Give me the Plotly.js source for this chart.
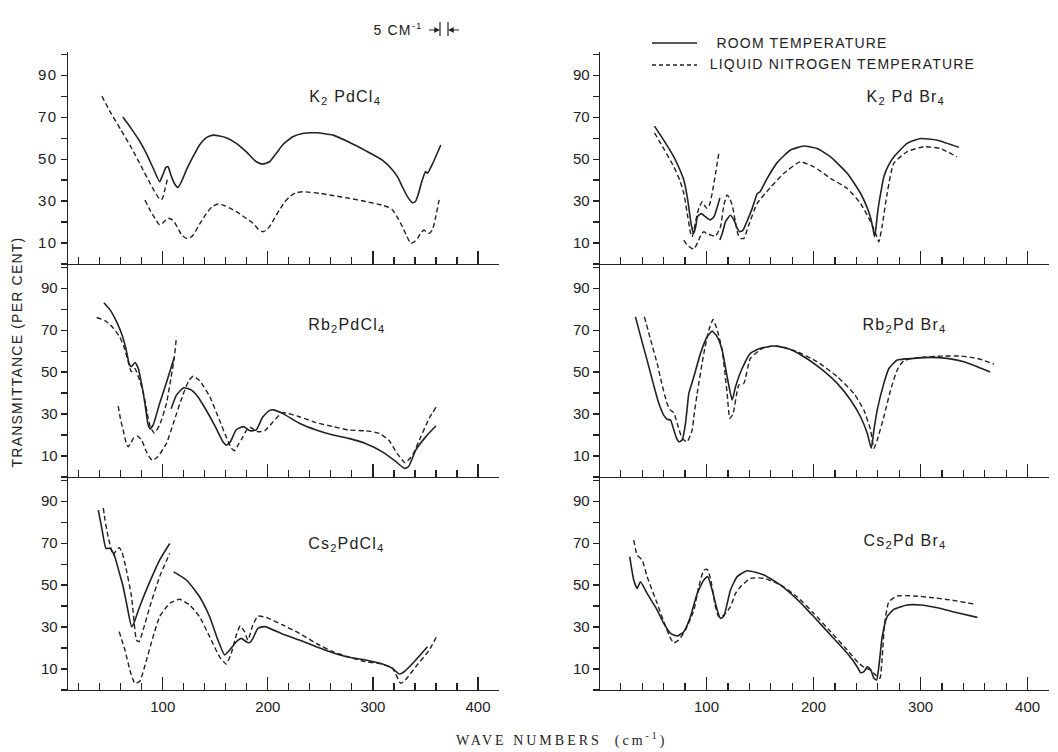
<!DOCTYPE html>
<html><head><meta charset="utf-8">
<script src="https://cdn.plot.ly/plotly-3.0.1.min.js"></script>
<style>
html,body{margin:0;padding:0;background:#fff}
#chart{width:1058px;height:752px}
.xtick text,.ytick text{letter-spacing:1.5px}
.annotation text{letter-spacing:1.2px}
g.annotation[data-index="0"] text{letter-spacing:3px}
</style>
</head><body><div id="chart"></div>
<script>
// ---------------- data ----------------
const seriesNames = ['ROOM TEMPERATURE', 'LIQUID NITROGEN TEMPERATURE'];
const compounds = ['K<sub>2</sub> PdCl<sub>4</sub>', 'K<sub>2</sub> Pd Br<sub>4</sub>',
                   'Rb<sub>2</sub>PdCl<sub>4</sub>', 'Rb<sub>2</sub>Pd Br<sub>4</sub>',
                   'Cs<sub>2</sub>PdCl<sub>4</sub>', 'Cs<sub>2</sub>Pd Br<sub>4</sub>'];
const xTickVals = [100, 200, 300, 400];
const yTickVals = [10, 30, 50, 70, 90];
const xTitle = 'WAVE NUMBERS  (cm<sup>-1</sup>)';
const yTitle = 'TRANSMITTANCE (PER CENT)';
const resolutionLabel = '5 CM<sup>-1</sup>';

// [wavenumber, transmittance %]
const K2PdCl4_room = [[62,70],[70,64.5],[78,58.5],[85,52],[91,45.5],[97,39.2],[100,42.5],[103,46],[105,46.3],[108,42],[111.5,38],[114.5,36.5],[118,39.5],[122.5,44.8],[128.8,51.1],[135,56.7],[141.5,60.2],[147.8,61.4],[154,61],[160.4,60.2],[170,57.5],[179.4,53.5],[189,48.7],[195,47.6],[201.6,48.7],[208,52.7],[214,56.7],[223.7,60.6],[233,62.2],[246,62.5],[262,61.4],[277.5,58],[293,54],[309,49.5],[318.7,44.8],[324,41],[328,36.8],[333,32],[337.7,29.2],[340.5,29.8],[343,33],[347,40],[350,44],[352,43.3],[357,48],[364.6,56.7]];
const K2PdCl4_ln2_a = [[42,80],[50,72.5],[60,64],[70,55.5],[80,46],[90,36.5],[97.2,30.8],[99.5,31],[102,35.5],[105,41.6]];
const K2PdCl4_ln2_b = [[83,30.5],[87,26.5],[91,23],[97,18.6],[101,20],[104,21.5],[106.6,21.7],[109,21],[111,20],[115,16.5],[118,13.8],[122.5,12.2],[126,12.6],[129,13.8],[135,19],[141.5,24],[147,27.3],[152.5,28.6],[160,27.6],[166,26],[173,24],[180,21.5],[186,19.4],[191,16.5],[195,15.4],[198,16],[201.6,17.8],[206,21.5],[211,25.7],[216,29.5],[220.5,32],[226,33.8],[233,34.4],[249,33.7],[263,32.5],[277.5,31.3],[293,29.8],[309,28],[315,27],[318.7,25.7],[323,22.5],[328,17.8],[332,13.5],[336,9.8],[339,10.5],[342.4,12.2],[346,15],[348.7,16.2],[351,15.2],[353.5,14.6],[356.6,16.2],[360,23],[363,30.5]];

const K2PdBr4_room_a = [[51.4,65.7],[60,59],[69.5,51],[75,45],[78.8,40],[82,32],[84,25],[86,18],[88,14.6],[90,18],[91.5,22.5],[95,24],[99,22.5],[103.5,21],[107,22.5],[110,27],[112.5,31.5]];
const K2PdBr4_room_b = [[112.5,11.5],[115,15],[117.8,20.2],[122.4,23.2],[126,20.5],[128.7,17],[131,15.4],[134,16],[136.4,18.6],[142.7,26.5],[147.4,33.5],[150,34.4],[156.7,40.8],[166,48.3],[178.5,54.3],[191,56.2],[203.4,55],[215.9,51],[231.5,43.2],[243.9,33.7],[250,27],[253.3,22],[255.5,17],[257,13],[258.5,18],[260,25],[262.5,33],[265.7,41.6],[270,47],[275,51],[287.5,57.5],[300,59.8],[315.6,59],[335.8,55.6]];
const K2PdBr4_ln2_a = [[51.4,62.5],[60,55],[69.5,46.3],[75,40],[78.8,33.7],[82.5,22.5],[85,15],[86.6,13],[89,18],[91,23],[92.8,26.5],[96,29.7],[98,28],[100.6,26.5],[103,28.5],[105.3,33.7],[108.4,43],[111.5,52.7]];
const K2PdBr4_ln2_b = [[78.8,11.4],[82,9],[85,7.8],[88.2,7.1],[92,10.5],[95,14],[97.5,15.4],[100,14.5],[103.7,13.8],[108.4,13.3],[113.1,17.8],[116.2,28],[119.3,32.9],[122,31],[124.5,27],[127,20],[129.5,14],[131.8,12.2],[134.9,12.2],[139.5,18.6],[147.4,28.9],[159.8,36.5],[172.3,43.2],[184.7,48],[188,48.7],[200.3,46.3],[215.9,40.8],[231.5,36],[243.9,28.9],[253.3,20.2],[258,14.6],[261,10.6],[264,17.8],[268.8,33.7],[275,48],[287.5,53.5],[303,55.9],[318.7,55],[334,51]];

const Rb2PdCl4_room_a = [[44,83],[50,79.5],[56,74],[61,68],[65,61],[68,54],[70,52.5],[73.5,54.5],[76.5,52],[80,44],[83,35],[86,25],[88,23],[91,25],[97,35],[103.5,45],[111,57]];
const Rb2PdCl4_room_b = [[108,32.5],[113,39],[120,42.5],[127,41.5],[133,38.5],[140,33],[150,24],[157,17],[160.5,15.2],[164,16.5],[170,22.5],[177,24],[183,22],[189,22.5],[195,28.5],[201,31.5],[205,32],[214,30.3],[230,25.6],[246,22.4],[262,20],[277,18.4],[293,16],[309,12],[322,7.3],[330,4.1],[334,5],[341,13],[350,19],[360,24.4]];
const Rb2PdCl4_ln2_a = [[37,76],[45,74.5],[52,71.5],[59,66.8],[63,62],[66,57],[70,50.2],[73.4,51.7],[78,46],[82,39],[85,31],[88,24],[92,21],[97,24.8],[103.5,35],[108,47.8],[111,57],[113,66.8]];
const Rb2PdCl4_ln2_b = [[57.6,33.8],[60,27],[62.3,22.4],[65,16.5],[67,14.4],[70,16.5],[72,18.5],[76,19.5],[80,17.5],[84,12.5],[88,9],[90,8],[95,9.5],[103.5,16],[111,27],[119,39],[125,46],[129,48],[135,46],[145,38],[154,27],[160,19.5],[165,14],[168,12.5],[172,15.5],[175,18],[180,22.5],[183,23.7],[190,21.6],[197,22],[205,26.3],[214,30.6],[230,28.7],[246,25.9],[262,24],[277,22.4],[293,22],[306,20.8],[315,17.6],[323,11.3],[330.7,6.8],[337.7,10.5],[345.6,19.2],[353.5,27.9],[360.4,33.5]];

const Rb2PdBr4_room = [[33.6,76.3],[40,64],[44.5,55.7],[50,45],[55.5,35],[60,29.5],[63.2,27.5],[66.4,27.1],[69.5,22.4],[72,18.5],[74.1,16.8],[77.3,17.6],[80.4,25.6],[82,33],[83.5,39.8],[88.2,47.8],[94.4,58.9],[100.6,66.8],[105.3,69.5],[110,66.8],[114.6,60.5],[119.3,47.8],[124,36.7],[127.1,43],[133.3,51.7],[141,58.9],[150.5,61.3],[162.9,62.4],[175.4,61.3],[191,57.3],[206.5,51.7],[222.1,44.6],[234.6,36.7],[243.9,28.7],[250.2,20.8],[253.9,13.7],[256.4,22.4],[259.5,31.9],[265.7,44.6],[270.4,51.7],[278.2,55.7],[293.8,56.5],[309.3,57],[324.9,56.5],[340.5,54.9],[353,52.5],[365,50]];
const Rb2PdBr4_ln2 = [[42,76.3],[48,65],[53.9,54.1],[58,45],[63.2,35],[66,32],[69.5,30.6],[72.6,25.6],[77.3,18.4],[81.9,16.8],[86.6,22.4],[88.5,30],[91.3,39.8],[97.5,58.9],[102.2,70],[106.2,75],[110,70],[114.6,60.5],[119.3,39.8],[121.8,27.9],[124.9,30.3],[130.2,43.8],[134.9,44.6],[141,56.5],[153.6,61.7],[166,62.4],[184.7,59.7],[203.4,54.9],[222.1,47.8],[237.7,39.8],[247,31.9],[253.3,22.4],[256.4,13.7],[259.5,17.6],[265.7,28.7],[272,41.4],[278.2,51],[284.4,55.4],[300,57],[318.7,57.6],[337.4,57.6],[353,56.5],[368.5,53.8]];

const Cs2PdCl4_room_a = [[38.6,85.7],[42,77],[45.9,67.5],[49.7,67.5],[52,66],[54.4,63.5],[58,57],[62.3,49.2],[66,40],[70.3,30.2],[71.8,31],[78,39.7],[87.7,51.6],[97,61.9],[106.6,69.8]];
const Cs2PdCl4_room_b = [[110.4,56.3],[122.5,52.4],[135,44.4],[144.6,34.9],[152.5,23.8],[158.9,16.7],[163.6,19],[170,23],[174.7,24.6],[179.4,23],[182.6,22.5],[185.8,24.6],[190.5,29.4],[196.8,30.2],[214,26.7],[230,23.8],[246,20.6],[261.7,17.8],[277.5,15.6],[293,14.3],[309,12.4],[318.7,10.3],[325,7.6],[329.7,8.7],[340.8,14.3],[351.9,20.6]];
const Cs2PdCl4_ln2_a = [[43.4,86.7],[45,81],[48,73],[51,67],[52.8,64.3],[56,66.7],[58.5,67.8],[61,66],[64,60.3],[70.3,44.4],[75,23.8],[77.5,23],[81.3,28.6],[87.7,39.7],[97,54],[106.6,65.1]];
const Cs2PdCl4_ln2_b = [[58.5,27.8],[64,19],[68.7,9.5],[73.4,3.2],[78,4],[84.5,14.3],[90.8,25.4],[97,34.9],[106.6,41.3],[116,43.2],[125.6,40.5],[135,34.9],[144.6,25.4],[154,15.9],[160.4,12.4],[165.2,17.5],[170,26.2],[173.7,30.5],[177.8,27.8],[181,23.8],[185.8,31],[190.5,35.2],[198.4,34.6],[214,31],[230,27],[246,22.2],[261.7,18.3],[277.5,15.6],[293,13.5],[309,12.4],[318.7,10.3],[326.5,3.2],[331,4.8],[340.8,11.1],[353.5,19],[361.4,26.2]];

const Cs2PdBr4_room = [[28.3,63.5],[30,58],[32,52.4],[35.2,48.4],[38.3,51.6],[44.5,46],[53.9,38.1],[60.1,31.7],[66.4,27],[72.6,25.7],[78.8,27.8],[85,34.9],[91.3,46],[97.5,52.4],[101.2,54],[105.3,47.6],[110,38.1],[113.1,34.1],[116.2,35.2],[122.4,47.6],[128.7,54],[138,56.8],[153.6,54.8],[169.2,50],[184.7,43.2],[200.3,34.9],[215.9,26.2],[231.5,17.5],[240.8,11.1],[243.9,8.3],[247,8.7],[250.2,11.1],[253.3,9.8],[256.4,5.6],[258.9,4.8],[261,11.1],[264.2,25.4],[268.8,34.9],[275,38.4],[287.5,40.5],[300,40.5],[315.6,39.2],[334.3,36.8],[353,34.6]];
const Cs2PdBr4_ln2 = [[32,71.4],[35.2,64.3],[39.9,61.9],[44.5,54],[53.9,41.3],[60.1,32.5],[66.4,24.6],[69.5,22.5],[74.1,23.8],[80.4,28.6],[88.2,38.1],[92.8,49.2],[97.5,57.1],[100.6,57.5],[103.7,53.2],[108.4,39.7],[111.5,34.9],[116.2,35.7],[122.4,39.7],[127.1,46],[131.8,49.2],[141.1,53.2],[153.6,53.2],[169.2,50],[184.7,44.4],[200.3,36.5],[215.9,27.8],[231.5,19],[242.4,12.7],[248.6,10.3],[253.3,9.5],[258,7.1],[262,5.6],[264.2,15.9],[266.4,31.7],[270.4,42],[278.2,44.8],[293.8,44.8],[309.3,44.1],[328,42.9],[349.8,41]];

// panel order: row-major, left column chlorides, right column bromides
const panelRoom = [[K2PdCl4_room],[K2PdBr4_room_a,K2PdBr4_room_b],[Rb2PdCl4_room_a,Rb2PdCl4_room_b],[Rb2PdBr4_room],[Cs2PdCl4_room_a,Cs2PdCl4_room_b],[Cs2PdBr4_room]];
const panelLN2 = [[K2PdCl4_ln2_a,K2PdCl4_ln2_b],[K2PdBr4_ln2_a,K2PdBr4_ln2_b],[Rb2PdCl4_ln2_a,Rb2PdCl4_ln2_b],[Rb2PdBr4_ln2],[Cs2PdCl4_ln2_a,Cs2PdCl4_ln2_b],[Cs2PdBr4_ln2]];
const labelPos = [[273,79.5],[286,79.5],[275,72],[285,72],[275,69.5],[285,70.7]];

// ---------------- layout geometry (pixels) ----------------
const W = 1058, H = 752;
const colPx = [[68,499],[600,1049]];
const rowPx = [[52,264],[265,477],[478,690]];
const xRanges = [[9.8,420],[0.5,420]];
const ink = '#222';
const px = v => v / W, py = v => 1 - v / H;

const traces = [];
const layout = {
  width: W, height: H, margin: {l:0, r:0, t:0, b:0},
  paper_bgcolor: '#fff', plot_bgcolor: 'rgba(0,0,0,0)', showlegend: false,
  font: {family: 'Liberation Sans, Arial, sans-serif', size: 15, color: ink},
  annotations: [], shapes: []
};

for (let i = 0; i < 6; i++) {
  const row = Math.floor(i / 2), col = i % 2;
  const sfx = i === 0 ? '' : String(i + 1);
  const xa = 'x' + sfx, ya = 'y' + sfx;
  layout['xaxis' + sfx] = {
    domain: [px(colPx[col][0]), px(colPx[col][1])], range: xRanges[col], anchor: ya,
    showline: true, linecolor: ink, linewidth: 1.3, showgrid: false, zeroline: false,
    tickmode: 'array', tickvals: xTickVals,
    ticks: 'inside', ticklen: 13, tickwidth: 1.3, tickcolor: ink,
    minor: {tickmode: 'linear', tick0: 0, dtick: 20, ticks: 'inside', ticklen: 7, tickwidth: 1.2, tickcolor: ink, showgrid: false},
    showticklabels: row === 2, tickfont: {size: 15}, ticklabelstandoff: 3, fixedrange: true
  };
  layout['yaxis' + sfx] = {
    domain: [py(rowPx[row][1]), py(rowPx[row][0])], range: [0, 101], anchor: xa,
    showline: true, linecolor: ink, linewidth: 1.3, showgrid: false, zeroline: false,
    tickmode: 'array', tickvals: yTickVals,
    ticks: 'outside', ticklen: 6, tickwidth: 1.1, tickcolor: ink,
    minor: {tickmode: 'linear', tick0: 0, dtick: 10, ticks: 'outside', ticklen: 6, tickwidth: 1.1, tickcolor: ink, showgrid: false},
    tickfont: {size: 15}, fixedrange: true
  };
  panelRoom[i].forEach(seg => traces.push({
    type: 'scatter', mode: 'lines', xaxis: xa, yaxis: ya, name: seriesNames[0],
    x: seg.map(p => p[0]), y: seg.map(p => p[1]),
    line: {color: ink, width: 1.6, shape: 'spline', smoothing: 0.5}, hoverinfo: 'skip'
  }));
  panelLN2[i].forEach(seg => traces.push({
    type: 'scatter', mode: 'lines', xaxis: xa, yaxis: ya, name: seriesNames[1],
    x: seg.map(p => p[0]), y: seg.map(p => p[1]),
    line: {color: ink, width: 1.4, dash: '5px,3px', shape: 'spline', smoothing: 0.5}, hoverinfo: 'skip'
  }));
  layout.annotations.push({
    xref: xa, yref: ya, x: labelPos[i][0], y: labelPos[i][1], text: compounds[i],
    showarrow: false, font: {size: 16, color: ink}, xanchor: 'center', yanchor: 'middle'
  });
}

// titles (x title must be annotation index 0 for its css)
layout.annotations.unshift({
  xref: 'paper', yref: 'paper', x: px(562), y: py(739), text: xTitle, showarrow: false,
  font: {family: 'Liberation Serif, Times New Roman, serif', size: 14, color: ink},
  xanchor: 'center', yanchor: 'middle'
});
layout.annotations.push({
  xref: 'paper', yref: 'paper', x: px(17), y: py(352), text: yTitle, textangle: -90,
  showarrow: false, font: {size: 14, color: ink}, xanchor: 'center', yanchor: 'middle'
});
// legend
layout.annotations.push({xref:'paper', yref:'paper', x: px(724), y: py(43), text: seriesNames[0],
  showarrow:false, font:{size:14, color:ink}, xanchor:'left', yanchor:'middle'});
layout.annotations.push({xref:'paper', yref:'paper', x: px(724), y: py(64), text: seriesNames[1],
  showarrow:false, font:{size:14, color:ink}, xanchor:'left', yanchor:'middle'});
layout.shapes.push({type:'line', xref:'paper', yref:'paper', x0:px(652), x1:px(697), y0:py(43), y1:py(43),
  line:{color:ink, width:1.4}});
layout.shapes.push({type:'line', xref:'paper', yref:'paper', x0:px(652), x1:px(697), y0:py(65), y1:py(65),
  line:{color:ink, width:1.3, dash:'4px,3px'}});
// resolution marker
layout.annotations.push({xref:'paper', yref:'paper', x: px(375), y: py(29), text: resolutionLabel,
  showarrow:false, font:{size:14, color:ink}, xanchor:'left', yanchor:'middle'});
const tri = (tipX, dir) => {
  const b = tipX - dir * 5;
  return 'M ' + px(tipX) + ' ' + py(30) + ' L ' + px(b) + ' ' + py(27.5) + ' L ' + px(b) + ' ' + py(32.5) + ' Z';
};
layout.shapes.push({type:'line', xref:'paper', yref:'paper', x0:px(429), x1:px(436), y0:py(30), y1:py(30), line:{color:ink, width:1}});
layout.shapes.push({type:'line', xref:'paper', yref:'paper', x0:px(452), x1:px(459), y0:py(30), y1:py(30), line:{color:ink, width:1}});
layout.shapes.push({type:'path', xref:'paper', yref:'paper', path: tri(439.5, 1), fillcolor: ink, line:{color:ink, width:0.5}});
layout.shapes.push({type:'path', xref:'paper', yref:'paper', path: tri(448.5, -1), fillcolor: ink, line:{color:ink, width:0.5}});
layout.shapes.push({type:'line', xref:'paper', yref:'paper', x0:px(440), x1:px(440), y0:py(22), y1:py(36), line:{color:ink, width:1.2}});
layout.shapes.push({type:'line', xref:'paper', yref:'paper', x0:px(448), x1:px(448), y0:py(22), y1:py(36), line:{color:ink, width:1.2}});

Plotly.newPlot('chart', traces, layout, {displayModeBar: false, staticPlot: true});
</script>
</body></html>
